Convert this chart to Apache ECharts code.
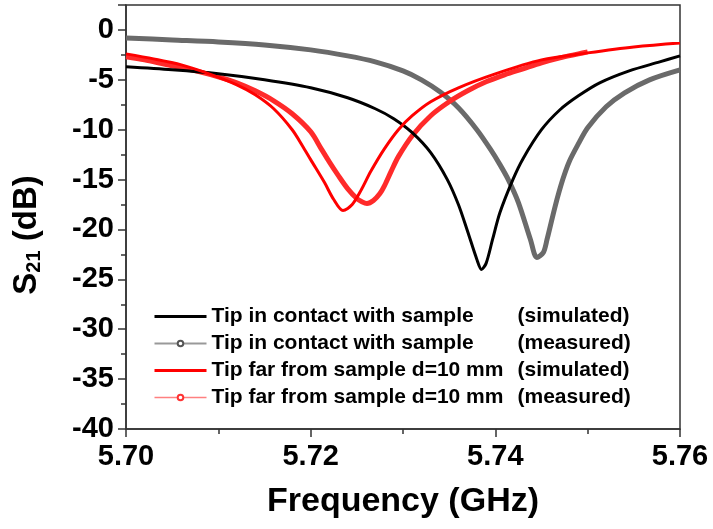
<!DOCTYPE html>
<html>
<head>
<meta charset="utf-8">
<script src="https://cdn.jsdelivr.net/npm/echarts@6/dist/echarts.min.js"></script>
<style>
  html, body { margin: 0; padding: 0; background: #fff; }
  #chart { width: 713px; height: 529px; }
</style>
</head>
<body>
<div id="chart"></div>
<script>
// values (frequency in GHz, S21 in dB)
const contactSimFreq = [5.700, 5.705, 5.710, 5.715, 5.720, 5.724, 5.727, 5.729, 5.731, 5.733, 5.7348, 5.736, 5.737, 5.738, 5.7385, 5.739, 5.7397, 5.7405, 5.7419, 5.743, 5.745, 5.747, 5.749, 5.7513, 5.7545, 5.7578, 5.760];
const contactSimDb   = [-3.7, -4.0, -4.4, -5.0, -5.8, -6.8, -7.9, -8.9, -10.3, -12.3, -15.0, -17.5, -20.2, -23.0, -24.0, -23.4, -21.0, -18.3, -15.0, -12.9, -10.0, -8.0, -6.6, -5.3, -4.1, -3.2, -2.6];

const contactMeasFreq = [5.700, 5.705, 5.710, 5.715, 5.720, 5.724, 5.727, 5.730, 5.732, 5.734, 5.736, 5.738, 5.7395, 5.7405, 5.7414, 5.7425, 5.7438, 5.7445, 5.7452, 5.7456, 5.7465, 5.7473, 5.748, 5.749, 5.750, 5.752, 5.754, 5.7567, 5.760];
const contactMeasDb   = [-0.8, -1.0, -1.2, -1.5, -2.0, -2.6, -3.2, -4.1, -5.0, -6.2, -7.8, -10.0, -12.0, -13.5, -15.0, -17.3, -21.0, -22.8, -22.3, -21.0, -17.6, -15.0, -13.2, -11.4, -9.8, -7.7, -6.3, -5.0, -4.0];

const farSimFreq = [5.700, 5.703, 5.706, 5.709, 5.712, 5.714, 5.716, 5.718, 5.7191, 5.720, 5.7215, 5.7225, 5.7235, 5.7245, 5.7255, 5.7265, 5.728, 5.7295, 5.731, 5.733, 5.736, 5.740, 5.745, 5.750, 5.755, 5.760];
const farSimDb   = [-2.4, -2.9, -3.5, -4.4, -5.5, -6.5, -7.9, -10.0, -11.6, -13.0, -15.3, -17.0, -18.1, -17.5, -16.0, -14.2, -11.9, -10.0, -8.6, -7.2, -5.8, -4.4, -3.0, -2.3, -1.7, -1.3];

const farMeasFreq = [5.700, 5.702, 5.704, 5.706, 5.708, 5.710, 5.712, 5.714, 5.716, 5.718, 5.720, 5.7212, 5.722, 5.723, 5.724, 5.725, 5.7255, 5.7261, 5.7268, 5.7275, 5.728, 5.7287, 5.7295, 5.731, 5.733, 5.735, 5.737, 5.739, 5.741, 5.743, 5.745, 5.747, 5.749, 5.750];
const farMeasDb   = [-2.7, -3.0, -3.4, -3.8, -4.2, -4.7, -5.3, -6.1, -7.1, -8.4, -10.2, -12.0, -13.2, -14.6, -15.9, -16.9, -17.2, -17.4, -17.1, -16.4, -15.6, -14.2, -12.7, -10.6, -8.6, -7.2, -6.1, -5.2, -4.5, -3.9, -3.3, -2.8, -2.4, -2.2];

const seriesNames = [
  ['Tip in contact with sample', '(simulated)'],
  ['Tip in contact with sample', '(measured)'],
  ['Tip far from sample d=10 mm', '(simulated)'],
  ['Tip far from sample d=10 mm', '(measured)']
];
const xTicks = [5.70, 5.72, 5.74, 5.76];

const pairs = (xs, ys) => xs.map((x, i) => [x, ys[i]]);
const legendName = (n) => n[0] + ' ' + n[1];

const chart = echarts.init(document.getElementById('chart'));
const fontFamily = 'Liberation Sans, Arial, sans-serif';

chart.setOption({
  animation: false,
  grid: { left: 126, right: 33, top: 5, bottom: 100, show: true, borderColor: '#333', borderWidth: 1.5 },
  legend: {
    orient: 'vertical',
    left: 153,
    top: 306,
    padding: 0,
    itemWidth: 52,
    itemHeight: 7,
    itemGap: 6,
    data: [
      { name: legendName(seriesNames[0]), lineStyle: { width: 3, color: '#000' }, itemStyle: { opacity: 0 } },
      { name: legendName(seriesNames[1]), lineStyle: { width: 2, color: '#999' }, itemStyle: { opacity: 1, color: '#555' } },
      { name: legendName(seriesNames[2]), lineStyle: { width: 3, color: '#f00' }, itemStyle: { opacity: 0 } },
      { name: legendName(seriesNames[3]), lineStyle: { width: 1.5, color: '#ff8080' }, itemStyle: { opacity: 1, color: '#f33' } }
    ],
    formatter: (name) => {
      const n = seriesNames.find(s => legendName(s) === name);
      return '{a|' + n[0] + '}{b|' + n[1] + '}';
    },
    textStyle: {
      rich: {
        a: { width: 306, fontSize: 21, fontWeight: 'bold', fontFamily, color: '#000', lineHeight: 21 },
        b: { fontSize: 21, fontWeight: 'bold', fontFamily, color: '#000', lineHeight: 21 }
      }
    }
  },
  xAxis: {
    type: 'value',
    min: 5.70,
    max: 5.76,
    interval: 0.02,
    name: 'Frequency (GHz)',
    nameLocation: 'middle',
    nameGap: 56,
    nameTextStyle: { fontSize: 34, fontWeight: 'bold', fontFamily, color: '#000' },
    axisLine: { onZero: false, lineStyle: { color: '#333', width: 1.5 } },
    axisTick: { inside: false, length: 8, lineStyle: { color: '#333', width: 1.5 } },
    minorTick: { show: true, splitNumber: 2, length: 5, lineStyle: { color: '#333', width: 1.5 } },
    splitLine: { show: false },
    axisLabel: {
      margin: 13,
      fontSize: 29,
      fontWeight: 'bold',
      fontFamily,
      color: '#000',
      formatter: (v) => xTicks.find(t => Math.abs(t - v) < 1e-6).toFixed(2)
    }
  },
  yAxis: {
    type: 'value',
    min: -40,
    max: 2.5,
    interval: 5,
    name: '{a|S}{sub|21}{a| (dB)}',
    nameLocation: 'middle',
    nameRotate: 90,
    nameGap: 79,
    nameTextStyle: {
      padding: [0, 36, 0, 0],
      rich: {
        a: { fontSize: 33, fontWeight: 'bold', fontFamily, color: '#000', lineHeight: 40 },
        sub: { fontSize: 20, fontWeight: 'bold', fontFamily, color: '#000', lineHeight: 40, padding: [14, 0, 0, 0] }
      }
    },
    axisLine: { onZero: false, lineStyle: { color: '#333', width: 1.5 } },
    axisTick: { inside: false, length: 8, lineStyle: { color: '#333', width: 1.5 } },
    minorTick: { show: true, splitNumber: 2, length: 5, lineStyle: { color: '#333', width: 1.5 } },
    splitLine: { show: false },
    axisLabel: {
      margin: 12,
      fontSize: 29,
      fontWeight: 'bold',
      fontFamily,
      color: '#000',
      showMaxLabel: false
    }
  },
  series: [
    {
      name: legendName(seriesNames[0]),
      type: 'line',
      data: pairs(contactSimFreq, contactSimDb),
      smooth: 0.3,
      showSymbol: false,
      lineStyle: { color: '#000', width: 3 },
      itemStyle: { color: '#000' },
      z: 3
    },
    {
      name: legendName(seriesNames[1]),
      type: 'line',
      data: pairs(contactMeasFreq, contactMeasDb),
      smooth: 0.3,
      symbol: 'emptyCircle',
      symbolSize: 4,
      showSymbol: true,
      lineStyle: { color: '#6a6a6a', width: 5 },
      itemStyle: { color: '#666', opacity: 0 },
      z: 2
    },
    {
      name: legendName(seriesNames[2]),
      type: 'line',
      data: pairs(farSimFreq, farSimDb),
      smooth: 0.3,
      showSymbol: false,
      lineStyle: { color: '#f00', width: 3 },
      itemStyle: { color: '#f00' },
      z: 4
    },
    {
      name: legendName(seriesNames[3]),
      type: 'line',
      data: pairs(farMeasFreq, farMeasDb),
      smooth: 0.3,
      symbol: 'emptyCircle',
      symbolSize: 4,
      showSymbol: true,
      lineStyle: { color: '#ff2a2a', width: 5 },
      itemStyle: { color: '#f00', opacity: 0 },
      z: 2
    }
  ]
});
</script>
</body>
</html>
